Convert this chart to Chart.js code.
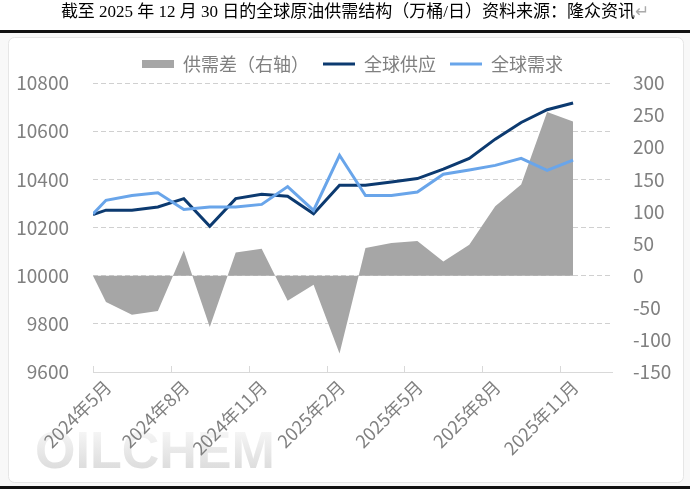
<!DOCTYPE html>
<html><head><meta charset="utf-8">
<script src="https://cdn.jsdelivr.net/npm/chart.js@4.4.1/dist/chart.umd.min.js"></script>
<style>
html,body{margin:0;padding:0;background:#fff;}
#wrap{position:relative;width:690px;height:491px;overflow:hidden;}
#cv{position:absolute;left:0;top:0;}
#title{position:absolute;left:10px;top:2px;width:690px;text-align:center;font-size:17px;font-family:"Liberation Serif","Noto Sans CJK SC",serif;color:#000;white-space:nowrap;line-height:20px;}
#title span{color:#aaa;}
</style></head><body>
<div id="wrap">
<canvas id="cv" width="690" height="491"></canvas>
<div id="title">截至 2025 年 12 月 30 日的全球原油供需结构（万桶/日）资料来源：隆众资讯<span>↵</span></div>
</div>
<script>
// ---- data (万桶/日) ----
const dates = ['2024-05-01','2024-05-16','2024-06-16','2024-07-16','2024-08-16','2024-09-16','2024-10-16','2024-11-16','2024-12-16','2025-01-16',
               '2025-02-16','2025-03-16','2025-04-16','2025-05-16','2025-06-16','2025-07-16','2025-08-16','2025-09-16','2025-10-16','2025-11-16'];
const supply = [10254,10272,10272,10285,10320,10205,10320,10338,10330,10257,10375,10375,10389,10403,10442,10487,10567,10636,10689,10717];
const demand = [10256,10313,10333,10344,10275,10285,10285,10296,10370,10271,10500,10333,10333,10347,10421,10439,10458,10487,10437,10480];
const gap    = [0,-41,-61,-55,39,-80,36,42,-39,-14,-121,43,51,54,22,48,108,142,255,240];
const tickLabels = ['2024年5月','2024年8月','2024年11月','2025年2月','2025年5月','2025年8月','2025年11月'];
const seriesNames = ['供需差（右轴）','全球供应','全球需求'];
const leftTicks = {min:9600, max:10800, step:200};
const rightTicks = {min:-150, max:300, step:50};

const FONT = '"Noto Sans CJK SC","Noto Sans",sans-serif';
const GREY = '#808080';

function monthPos(s){ const [y,m,d]=s.split('-').map(Number); return (y-2024)*12+(m-5)+(d-1)/30; }
const pts = arr => arr.map((v,i)=>({x:monthPos(dates[i]), y:v}));

const decor = {
  id:'decor',
  beforeDraw(chart){
    const c = chart.ctx;
    c.save();
    c.fillStyle='#fff'; c.fillRect(0,0,690,491);
    c.fillStyle='#f8f8f8'; c.fillRect(0,33,690,453);
    c.beginPath();
    if (c.roundRect) c.roundRect(8.5,37.5,675,445,6); else c.rect(8.5,37.5,675,445);
    c.fillStyle='#fff'; c.fill();
    c.strokeStyle='#e6e6e6'; c.lineWidth=1; c.stroke();
    c.fillStyle='#111'; c.fillRect(0,30,690,3); c.fillRect(0,486,690,3);
    // watermark
    const g = c.createLinearGradient(0,430,0,470);
    g.addColorStop(0,'#f6f6f6'); g.addColorStop(1,'#dcdcdc');
    c.fillStyle=g; c.font='bold 52px "Liberation Sans",Arial,sans-serif';
    c.textBaseline='alphabetic'; c.fillText('OILCHEM',35,468);
    c.restore();
  },
  afterDatasetsDraw(chart){
    const c = chart.ctx, xs = chart.scales.x, b = chart.chartArea.bottom;
    c.save(); c.strokeStyle='#d9d9d9'; c.lineWidth=1;
    xs.ticks.forEach(t=>{ const px=Math.round(xs.getPixelForValue(t.value))+0.5; c.beginPath(); c.moveTo(px,b-6); c.lineTo(px,b); c.stroke(); });
    c.restore();
  }
};

new Chart(document.getElementById('cv'), {
  type:'line',
  data:{ datasets:[
    {label:seriesNames[0], data:pts(gap), yAxisID:'y1', fill:'origin', backgroundColor:'#a6a6a6', borderColor:'#a6a6a6', borderWidth:0, pointRadius:0, pointStyle:'rect', order:3, tension:0},
    {label:seriesNames[1], data:pts(supply), yAxisID:'y', fill:false, borderColor:'#0c3a70', backgroundColor:'#0c3a70', borderWidth:3, pointRadius:0, pointStyle:'line', order:2, tension:0},
    {label:seriesNames[2], data:pts(demand), yAxisID:'y', fill:false, borderColor:'#69a5ea', backgroundColor:'#69a5ea', borderWidth:3, pointRadius:0, pointStyle:'line', order:1, tension:0}
  ]},
  options:{
    responsive:false, animation:false, devicePixelRatio:1,
    layout:{padding:{top:41,left:0,right:0,bottom:0}},
    plugins:{
      legend:{position:'top', fullSize:false, labels:{usePointStyle:true, pointStyleWidth:32, boxHeight:8, padding:14, color:GREY, font:{size:18,family:FONT},
              sort:(a,b)=>a.datasetIndex-b.datasetIndex}},
      tooltip:{enabled:false}
    },
    scales:{
      x:{type:'linear', min:0, max:20,
         afterBuildTicks:s=>{ s.ticks = tickLabels.map((l,i)=>({value:i*3})); },
         ticks:{autoSkip:false, minRotation:45, maxRotation:45, labelOffset:15, padding:4, color:GREY, font:{size:18,family:FONT}, callback:(v,i)=>tickLabels[i]},
         grid:{display:false, drawTicks:false},
         border:{display:true, color:'#d9d9d9', width:1},
         afterFit:s=>{ s.height = 119; }
      },
      y:{position:'left', min:leftTicks.min, max:leftTicks.max,
         ticks:{stepSize:leftTicks.step, padding:24, color:GREY, font:{size:19,family:FONT}, callback:v=>String(v)},
         grid:{drawTicks:false, lineWidth:1, color:ctx=> ctx.tick && ctx.tick.value===leftTicks.min ? 'rgba(0,0,0,0)' : '#d0d0d0'},
         border:{display:false, dash:[5,3]},
         afterFit:s=>{ s.width = 93; }
      },
      y1:{position:'right', min:rightTicks.min, max:rightTicks.max,
         ticks:{stepSize:rightTicks.step, padding:21, color:GREY, font:{size:19,family:FONT}, callback:v=>String(v)},
         grid:{display:false, drawTicks:false},
         border:{display:false},
         afterFit:s=>{ s.width = 78; }
      }
    }
  },
  plugins:[decor]
});
</script>
</body></html>
